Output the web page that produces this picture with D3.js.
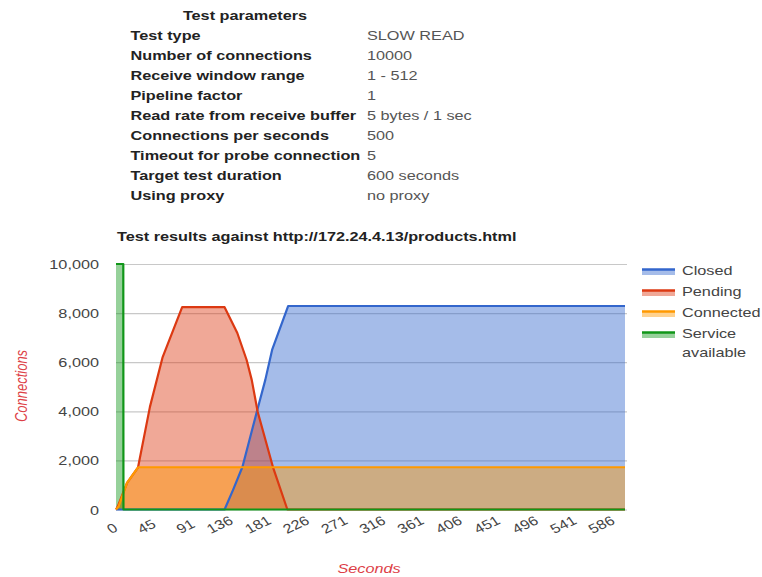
<!DOCTYPE html>
<html><head><meta charset="utf-8">
<script src="https://cdn.jsdelivr.net/npm/d3@7/dist/d3.min.js"></script>
<style>
body{margin:0;background:#fff}
text{font-family:"Liberation Sans",Arial,sans-serif;font-size:13px}
</style>
</head><body>
<svg id="chart" width="762" height="577"></svg>
<script>
// ---------- data ----------
const tableTitle = "Test parameters";
const paramLabels = ["Test type","Number of connections","Receive window range","Pipeline factor",
  "Read rate from receive buffer","Connections per seconds","Timeout for probe connection",
  "Target test duration","Using proxy"];
const paramValues = ["SLOW READ","10000","1 - 512","1","5 bytes / 1 sec","500","5","600 seconds","no proxy"];
const chartTitle = "Test results against http://172.24.4.13/products.html";

const seriesNames = ["Closed","Pending","Connected","Service available"];

const closedSeconds = [0, 128, 138, 149, 166, 176, 184, 203, 600];
const closedValues  = [0, 0, 800, 1730, 3980, 5280, 6500, 8290, 8290];

const pendingSeconds = [0, 2, 13, 26, 40, 55, 78, 128, 143, 154, 160, 167, 185, 202, 600];
const pendingValues  = [0, 120, 1080, 1720, 4180, 6210, 8240, 8240, 7190, 6090, 5280, 3980, 1730, 0, 0];

const connectedSeconds = [0, 3, 13, 26, 600];
const connectedValues  = [0, 120, 1080, 1720, 1720];

const serviceSeconds = [0, 8.6, 8.8, 600];
const serviceValues  = [10000, 10000, 0, 0];

const xTickValues = [0,45,91,136,181,226,271,316,361,406,451,496,541,586];
const yTickValues = [0,2000,4000,6000,8000,10000];
const xAxisTitle = "Seconds";
const yAxisTitle = "Connections";

// ---------- styles ----------
const colors = ["#3366cc","#dc3912","#ff9900","#109618"];
const SX = 1.25; // horizontal stretch of the original picture
const svg = d3.select("#chart");
svg.append("rect").attr("width",762).attr("height",577).attr("fill","#fff");

function put(sel, x, y){ sel.attr("transform",`translate(${x},${y}) scale(${SX},1)`); return sel; }

// ---------- parameter table ----------
put(svg.append("text").text(tableTitle).attr("text-anchor","middle")
  .attr("font-weight","bold").attr("fill","#222"), 245, 19.5);
paramLabels.forEach((l,i)=>{
  const yb = 39.5 + i*20.05;
  put(svg.append("text").text(l).attr("font-weight","bold").attr("fill","#222"), 130.5, yb);
  put(svg.append("text").text(paramValues[i]).attr("fill","#555"), 367, yb);
});

// ---------- chart title ----------
put(svg.append("text").text(chartTitle).attr("font-weight","bold").attr("fill","#222"), 117, 240.5);

// ---------- scales ----------
const x = d3.scaleLinear().domain([0,600]).range([116,625]);
const y = d3.scaleLinear().domain([0,10000]).range([509.5,264]);

// gridlines + y axis
const yAxis = svg.append("g").attr("transform","translate(116,0)")
  .call(d3.axisLeft(y).tickValues(yTickValues).tickSize(-511).tickFormat(d3.format(",")));
yAxis.select(".domain").remove();
yAxis.selectAll(".tick line").attr("stroke","#c8c8c8").attr("stroke-width",1.2);
yAxis.selectAll(".tick text").attr("x",0).attr("dy","0.35em").attr("fill","#444")
  .attr("font-size",13).attr("font-family","Liberation Sans, Arial, sans-serif")
  .attr("text-anchor","end").attr("transform",`translate(-17,0) scale(${SX},1)`);

// ---------- series ----------
const series = [
  {name:seriesNames[0], pts:d3.zip(closedSeconds, closedValues), color:colors[0]},
  {name:seriesNames[1], pts:d3.zip(pendingSeconds, pendingValues), color:colors[1]},
  {name:seriesNames[2], pts:d3.zip(connectedSeconds, connectedValues), color:colors[2]},
  {name:seriesNames[3], pts:d3.zip(serviceSeconds, serviceValues), color:colors[3]},
];
const area = d3.area().x(d=>x(d[0])).y0(y(0)).y1(d=>y(d[1]));
const line = d3.line().x(d=>x(d[0])).y(d=>y(d[1]));

svg.append("g").selectAll("path").data(series).join("path")
  .attr("d",d=>area(d.pts)).attr("fill",d=>d.color).attr("fill-opacity",0.44);
svg.append("g").selectAll("path").data(series).join("path")
  .attr("d",d=>line(d.pts)).attr("fill","none").attr("stroke",d=>d.color)
  .attr("stroke-width",2.2).attr("stroke-linejoin","round");

// ---------- x axis labels (slanted) ----------
const xAxis = svg.append("g").attr("transform","translate(0,0)")
  .call(d3.axisBottom(x).tickValues(xTickValues).tickSize(0).tickFormat(d=>String(d)));
xAxis.select(".domain").remove();
xAxis.selectAll(".tick").attr("transform",null);
xAxis.selectAll(".tick text").each(function(d){
  const t = d3.select(this);
  t.attr("x",0).attr("y",0).attr("dy","0.35em").attr("text-anchor","end").attr("fill","#444")
   .attr("font-size",13).attr("font-family","Liberation Sans, Arial, sans-serif");
  const w = this.getComputedTextLength();
  t.attr("transform",`translate(${x(d)},${530 - w*0.5}) scale(${SX},1) rotate(-30)`);
});

// ---------- axis titles ----------
put(svg.append("text").text(xAxisTitle).attr("text-anchor","middle").attr("font-style","italic")
  .attr("fill","#dd3f47"), 369, 573);
svg.append("text").text(yAxisTitle).attr("text-anchor","middle").attr("font-style","italic")
  .attr("fill","#dd3f47").attr("transform","translate(26.5,386) rotate(-90) scale(1,1.25)");

// ---------- legend ----------
const legendBase = [275, 296, 317, 338];
series.forEach((s,i)=>{
  const yb = legendBase[i];
  svg.append("rect").attr("x",642).attr("y",yb-5).attr("width",33).attr("height",5)
    .attr("fill",s.color).attr("fill-opacity",0.44);
  svg.append("line").attr("x1",642).attr("x2",675).attr("y1",yb-5.5).attr("y2",yb-5.5)
    .attr("stroke",s.color).attr("stroke-width",2.5);
  const words = i===3 ? ["Service","available"] : [s.name];
  words.forEach((w,j)=>{
    put(svg.append("text").text(w).attr("fill","#444"), 682, yb + j*19);
  });
});
</script>
</body></html>
